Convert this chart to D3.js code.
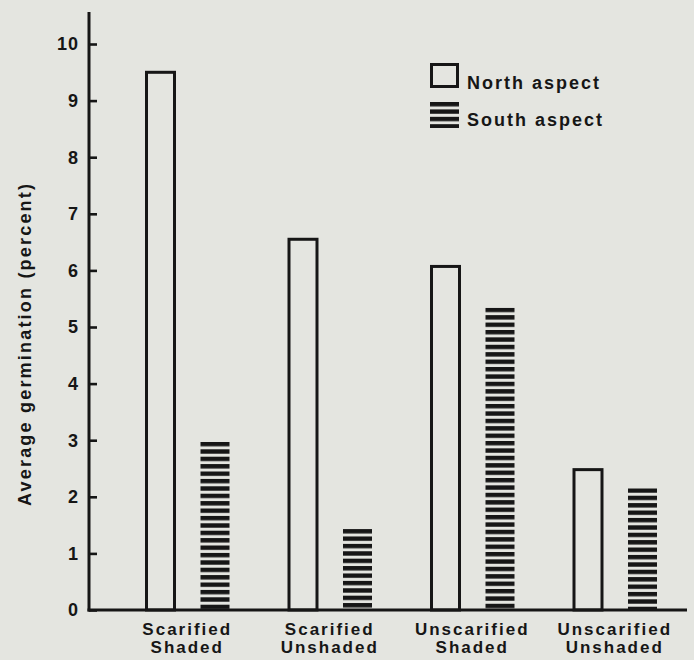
<!DOCTYPE html>
<html>
<head>
<meta charset="utf-8">
<script src="https://cdn.jsdelivr.net/npm/d3@7"></script>
<style>
  html, body { margin: 0; padding: 0; background: #e4e5e0; }
  svg { display: block; }
  text { font-family: "Liberation Sans", Arial, Helvetica, sans-serif; fill: #161616; }
</style>
</head>
<body>
<svg id="chart" width="694" height="660"></svg>
<script>
// ---- data ----
const categories = [["Scarified", "Shaded"], ["Scarified", "Unshaded"], ["Unscarified", "Shaded"], ["Unscarified", "Unshaded"]];
const categoryKeys = ["SS", "SU", "US", "UU"];
const series = ["North aspect", "South aspect"];
const northValues = [9.5, 6.55, 6.07, 2.48];
const southValues = [2.97, 1.43, 5.34, 2.15];
const yTicks = [0, 1, 2, 3, 4, 5, 6, 7, 8, 9, 10];
const yTitle = "Average germination (percent)";

const svg = d3.select("#chart");
const ink = "#161616";

const y = d3.scaleLinear().domain([0, 10]).range([610, 44]);
const axisX = 89;
const x0 = d3.scaleBand().domain(categoryKeys).range([116, 686]).paddingInner(0).paddingOuter(0);
const x1 = d3.scaleBand().domain(series).range([29, 113.5]).paddingInner(0.4775).paddingOuter(0);

// stripe patterns, one per south bar, anchored at the bar top
const defs = svg.append("defs");
const period = 7.4, stripe = 4.4;
function makePattern(id, yStart) {
  const p = defs.append("pattern")
    .attr("id", id)
    .attr("patternUnits", "userSpaceOnUse")
    .attr("x", 0).attr("y", yStart)
    .attr("width", 10).attr("height", period);
  p.append("rect").attr("x", 0).attr("y", 0).attr("width", 10).attr("height", stripe).attr("fill", ink);
}

// y axis
const yAxis = d3.axisRight(y).tickValues(yTicks).tickSize(8).tickFormat("");
const gy = svg.append("g").attr("transform", `translate(${axisX},0)`).call(yAxis);
gy.select(".domain").remove();
gy.selectAll(".tick line").attr("stroke", ink).attr("stroke-width", 2.6);
svg.append("line").attr("x1", axisX).attr("x2", axisX).attr("y1", 12).attr("y2", y(0) + 1.5)
  .attr("stroke", ink).attr("stroke-width", 3);

svg.append("g").selectAll("text").data(yTicks).join("text")
  .attr("x", 79).attr("y", d => y(d)).attr("dy", "0.36em")
  .attr("text-anchor", "end")
  .attr("font-size", 18).attr("font-weight", "bold").attr("letter-spacing", 1)
  .text(d => d);

// y title
svg.append("text")
  .attr("transform", `translate(31,345) rotate(-90)`)
  .attr("text-anchor", "middle")
  .attr("font-size", 18).attr("font-weight", "bold")
  .attr("textLength", 322).attr("lengthAdjust", "spacing")
  .text(yTitle);

// bars
const groups = svg.append("g").selectAll("g").data(categoryKeys).join("g")
  .attr("transform", d => `translate(${x0(d)},0)`);

// south bars (striped, no outline)
groups.each(function(d, i) {
  const top = y(southValues[i]);
  makePattern("stripe" + i, top);
  d3.select(this).append("rect")
    .attr("x", x1(series[1]))
    .attr("y", top)
    .attr("width", x1.bandwidth())
    .attr("height", y(0) - top)
    .attr("fill", `url(#stripe${i})`);
});

// north bars (open outline)
groups.append("rect")
  .attr("x", x1(series[0]) + 1.5)
  .attr("y", (d, i) => y(northValues[i]))
  .attr("width", x1.bandwidth() - 1)
  .attr("height", (d, i) => y(0) - y(northValues[i]))
  .attr("fill", "none")
  .attr("stroke", ink).attr("stroke-width", 3);

// baseline
svg.append("line").attr("x1", axisX - 1.5).attr("x2", 687).attr("y1", y(0)).attr("y2", y(0))
  .attr("stroke", ink).attr("stroke-width", 3);

// category labels
groups.append("text")
  .attr("x", x0.bandwidth() / 2)
  .attr("y", 635)
  .attr("text-anchor", "middle")
  .attr("font-size", 17).attr("font-weight", "bold").attr("letter-spacing", 2)
  .selectAll("tspan").data((d, i) => categories[i]).join("tspan")
  .attr("x", x0.bandwidth() / 2)
  .attr("dy", (t, j) => j === 0 ? 0 : 18)
  .text(t => t);

// legend
const legend = svg.append("g");
legend.append("rect").attr("x", 431.5).attr("y", 64.5).attr("width", 26).attr("height", 22)
  .attr("fill", "none").attr("stroke", ink).attr("stroke-width", 3);
makePattern("legendStripe", 102);
legend.append("rect").attr("x", 430).attr("y", 102).attr("width", 29).attr("height", 26)
  .attr("fill", "url(#legendStripe)");
legend.selectAll("text").data(series).join("text")
  .attr("x", 467).attr("y", (d, i) => 89 + i * 37)
  .attr("font-size", 18).attr("font-weight", "bold").attr("letter-spacing", 2)
  .text(d => d);
</script>
</body>
</html>
